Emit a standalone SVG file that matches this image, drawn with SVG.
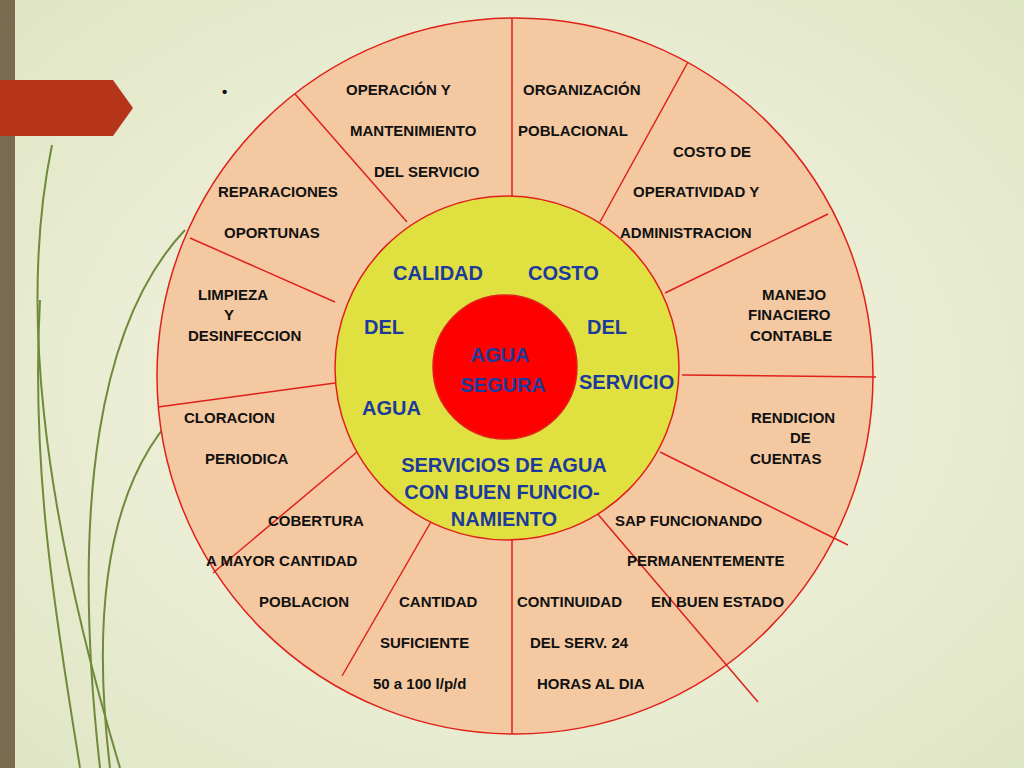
<svg xmlns="http://www.w3.org/2000/svg" width="1024" height="768" viewBox="0 0 1024 768">
<defs>
<radialGradient id="bg" cx="0.5" cy="0.5" r="0.7"><stop offset="0" stop-color="#f7f6e6"/><stop offset="1" stop-color="#dfe6c4"/></radialGradient>
<style>
.s{font-family:"Liberation Sans",Arial,sans-serif;font-weight:bold;font-size:15px;fill:#111}
.b{font-family:"Liberation Sans",Arial,sans-serif;font-weight:bold;font-size:20px;fill:#1c3a9c}
.r{stroke:#e0201a;stroke-width:1.5;fill:none}
</style>
</defs>
<rect width="1024" height="768" fill="url(#bg)"/>
<rect x="0" y="0" width="15" height="768" fill="#7a6a50"/>
<g fill="none" stroke="#6f8a3a" stroke-width="2">
<path d="M52 145 C20 300 40 500 120 768"/>
<path d="M185 230 C100 320 70 500 100 768"/>
<path d="M190 400 C110 470 90 600 110 768"/>
<path d="M40 300 C30 480 60 640 80 768"/>
</g>
<polygon points="0,80 113,80 133,108 113,136 0,136" fill="#b5341a"/>
<text x="222" y="97" class="s" font-size="20">•</text>
<g id="outer">
<circle cx="515" cy="376" r="358" fill="#f4c9a1" stroke="#e0201a" stroke-width="1.5"/>
</g>
<g id="connectors" class="r">
<line x1="512" y1="198" x2="512" y2="18"/>
<line x1="600" y1="222" x2="688" y2="62"/>
<line x1="665" y1="293" x2="828" y2="214"/>
<line x1="682" y1="375" x2="876" y2="377"/>
<line x1="660" y1="452" x2="848" y2="545"/>
<line x1="596" y1="512" x2="758" y2="702"/>
<line x1="512" y1="537" x2="512" y2="734"/>
<line x1="432" y1="520" x2="342" y2="676"/>
<line x1="357" y1="452" x2="213" y2="573"/>
<line x1="335" y1="383" x2="158" y2="407"/>
<line x1="335" y1="302" x2="190" y2="238"/>
<line x1="407" y1="222" x2="295" y2="94"/>
</g>
<g id="inner"><circle cx="507" cy="368" r="172" fill="#e0e040" stroke="#e0201a" stroke-width="1.5"/></g>
<g id="center"><circle cx="505" cy="367" r="72" fill="#ff0000" stroke="#e0201a" stroke-width="1.5"/>
<text x="500" y="362" class="b" font-size="22" text-anchor="middle">AGUA</text>
<text x="503" y="392" class="b" font-size="22" text-anchor="middle">SEGURA</text></g>
<g id="labels-inner">
<text x="393" y="280" class="b">CALIDAD</text>
<text x="528" y="280" class="b">COSTO</text>
<text x="364" y="334" class="b">DEL</text>
<text x="587" y="334" class="b">DEL</text>
<text x="579" y="389" class="b">SERVICIO</text>
<text x="362" y="415" class="b">AGUA</text>
<text x="504" y="472" class="b" text-anchor="middle">SERVICIOS DE AGUA</text>
<text x="502" y="499" class="b" text-anchor="middle">CON BUEN FUNCIO-</text>
<text x="504" y="526" class="b" text-anchor="middle">NAMIENTO</text>
</g>
<g id="labels-outer">
<text x="346" y="95" class="s">OPERACIÓN Y</text>
<text x="350" y="136" class="s">MANTENIMIENTO</text>
<text x="374" y="177" class="s">DEL SERVICIO</text>
<text x="523" y="95" class="s">ORGANIZACIÓN</text>
<text x="518" y="136" class="s">POBLACIONAL</text>
<text x="673" y="157" class="s">COSTO DE</text>
<text x="633" y="197" class="s">OPERATIVIDAD Y</text>
<text x="620" y="238" class="s">ADMINISTRACION</text>
<text x="218" y="197" class="s">REPARACIONES</text>
<text x="224" y="238" class="s">OPORTUNAS</text>
<text x="198" y="300" class="s">LIMPIEZA</text>
<text x="224" y="320" class="s">Y</text>
<text x="188" y="341" class="s">DESINFECCION</text>
<text x="762" y="300" class="s">MANEJO</text>
<text x="748" y="320" class="s">FINACIERO</text>
<text x="750" y="341" class="s">CONTABLE</text>
<text x="184" y="423" class="s">CLORACION</text>
<text x="205" y="464" class="s">PERIODICA</text>
<text x="751" y="423" class="s">RENDICION</text>
<text x="790" y="443" class="s">DE</text>
<text x="750" y="464" class="s">CUENTAS</text>
<text x="268" y="526" class="s">COBERTURA</text>
<text x="206" y="566" class="s">A MAYOR CANTIDAD</text>
<text x="259" y="607" class="s">POBLACION</text>
<text x="615" y="526" class="s">SAP FUNCIONANDO</text>
<text x="627" y="566" class="s">PERMANENTEMENTE</text>
<text x="651" y="607" class="s">EN BUEN ESTADO</text>
<text x="399" y="607" class="s">CANTIDAD</text>
<text x="380" y="648" class="s">SUFICIENTE</text>
<text x="373" y="689" class="s">50 a 100 l/p/d</text>
<text x="517" y="607" class="s">CONTINUIDAD</text>
<text x="530" y="648" class="s">DEL SERV.  24</text>
<text x="537" y="689" class="s">HORAS AL DIA</text>
</g>
</svg>
